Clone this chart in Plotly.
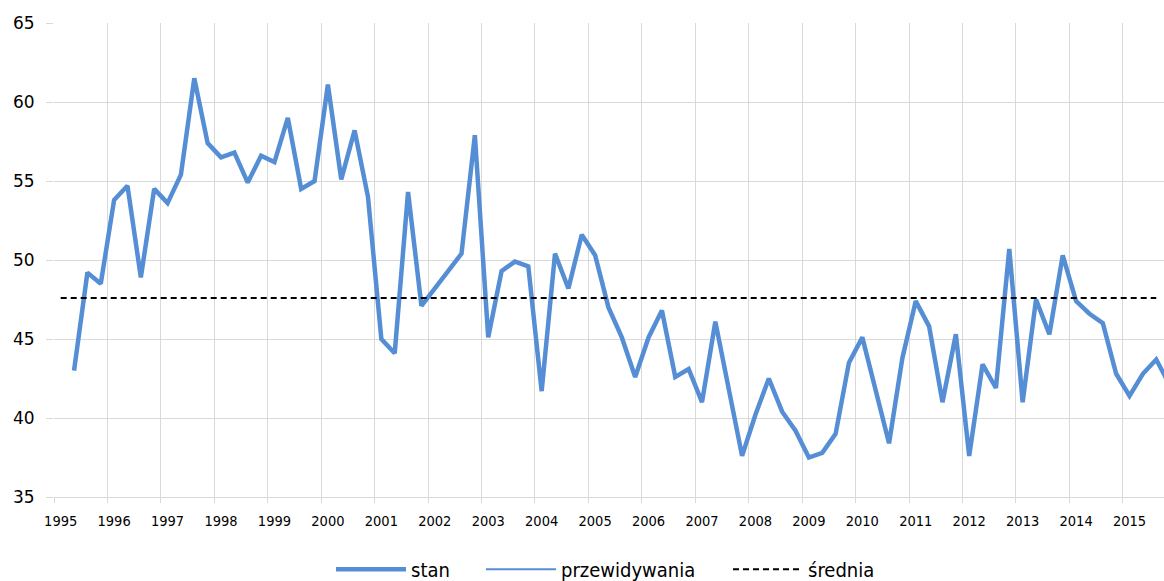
import plotly.graph_objects as go

# quarterly data, first category = 1995 Q1 (no value)
years = list(range(1995, 2016))
year_labels = [str(y) for y in years]

stan = [None, 43.0, 49.2, 48.5,
        53.8, 54.7, 48.9, 54.5,
        53.6, 55.4, 61.5, 57.4,
        56.5, 56.8, 54.9, 56.6,
        56.2, 59.0, 54.5, 55.0,
        61.1, 55.1, 58.2, 54.0,
        45.0, 44.1, 54.3, 47.1,
        48.2, 49.3, 50.4, 57.9,
        45.1, 49.3, 49.9, 49.6,
        41.7, 50.4, 48.2, 51.6,
        50.3, 47.0, 45.1, 42.6,
        45.1, 46.8, 42.6, 43.1,
        41.0, 46.1, 41.9, 37.6,
        40.2, 42.5, 40.4, 39.2,
        37.5, 37.8, 39.0, 43.5,
        45.1, 41.7, 38.4, 43.8,
        47.4, 45.8, 41.0, 45.3,
        37.6, 43.4, 41.9, 50.7,
        41.0, 47.5, 45.3, 50.3,
        47.4, 46.6, 46.0, 42.8,
        41.4, 42.8, 43.7, 42.1]

srednia_value = 47.6
srednia_len = 83  # categories covered by the average line

BLUE = "#558ED5"
GRID = "#D9D9D9"
FONT_COND = "DejaVu Sans Condensed, Tahoma, DejaVu Sans, sans-serif"

W, H = 1164, 589
SY = H / 581.0  # vertical compensation for the capture
ML = 54
MT = 22.7 * SY
MB = H - 496.7 * SY
PLOT_W = W - ML
PLOT_H = H - MT - MB


def px_to_paper_x(px):
    return (px - ML) / PLOT_W


def px_to_paper_y(py):
    return (H - MB - py * SY) / PLOT_H


x_idx = list(range(len(stan)))

fig = go.Figure()
fig.add_trace(go.Scatter(x=x_idx, y=stan, mode="lines", name="stan", legend="legend",
                         line=dict(color=BLUE, width=4.5), connectgaps=False))
fig.add_trace(go.Scatter(x=[None], y=[None], mode="lines", name="przewidywania", legend="legend2",
                         line=dict(color=BLUE, width=2)))
fig.add_trace(go.Scatter(x=list(range(srednia_len)), y=[srednia_value] * srednia_len,
                         mode="lines", name="średnia", legend="legend3",
                         line=dict(color="black", width=2, dash="6px,4px")))

tick_pos = [4 * k for k in range(len(years))]
grid_pos = [4 * k - 0.5 for k in range(len(years) + 1)]

leg_common = dict(orientation="h", xanchor="left", yanchor="middle", y=px_to_paper_y(569),
                  font=dict(family=FONT_COND, size=20, color="#000000"), itemwidth=70,
                  bgcolor="rgba(0,0,0,0)", borderwidth=0)

fig.update_layout(
    width=W, height=H,
    margin=dict(l=ML, r=0, t=MT, b=MB, pad=0),
    plot_bgcolor="white", paper_bgcolor="white",
    showlegend=True,
    hovermode=False,
    legend=dict(x=px_to_paper_x(331), **leg_common),
    legend2=dict(x=px_to_paper_x(481), **leg_common),
    legend3=dict(x=px_to_paper_x(728), **leg_common),
    xaxis=dict(range=[-0.5, 82.58], tickmode="array", tickvals=tick_pos, ticktext=year_labels,
               showgrid=False, zeroline=False, ticks="", ticklabelstandoff=10,
               tickfont=dict(family=FONT_COND, size=14.5, color="#000000"),
               showline=True, linecolor=GRID, linewidth=1.3,
               minor=dict(tickmode="array", tickvals=grid_pos, showgrid=True, gridcolor=GRID,
                          gridwidth=1.3, ticks="outside", ticklen=5, tickcolor=GRID, tickwidth=1.3)),
    yaxis=dict(range=[35, 65], tickmode="array", tickvals=[35, 40, 45, 50, 55, 60, 65],
               showgrid=True, gridcolor=GRID, gridwidth=1.3, zeroline=False,
               ticks="outside", ticklen=7, tickcolor=GRID, tickwidth=1.3, ticklabelstandoff=8,
               tickfont=dict(family="DejaVu Sans, Verdana, sans-serif", size=17, color="#000000"),
               showline=False),
)

fig.write_html("out.html", config={"displayModeBar": False},
               post_script="document.body.style.margin='0';document.body.style.overflow='hidden';")
